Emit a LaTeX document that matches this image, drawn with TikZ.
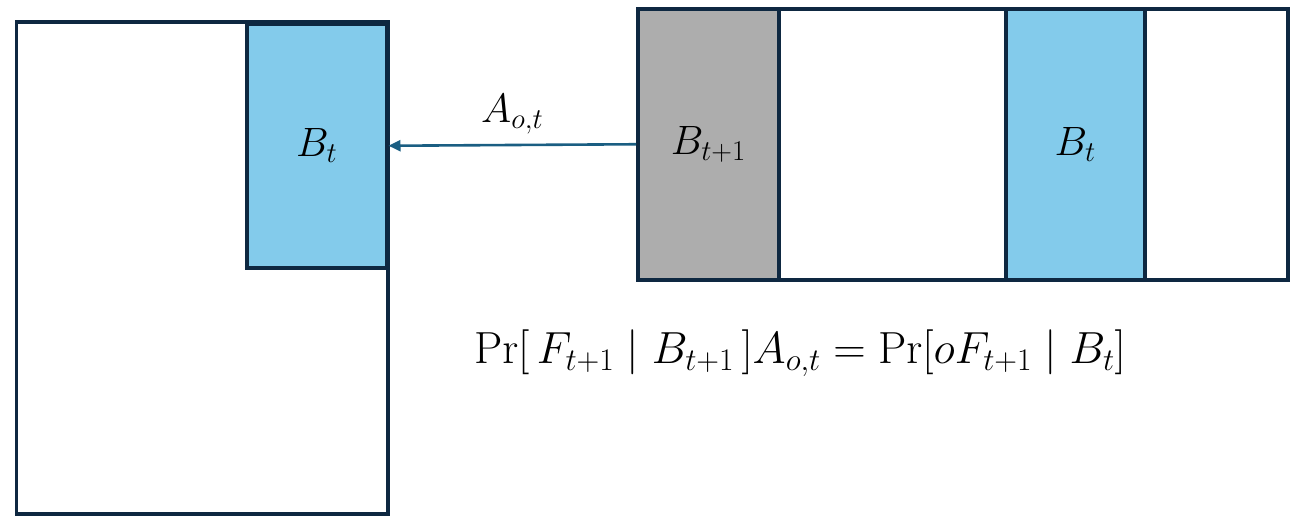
\RequirePackage{fix-cm}
\documentclass[tikz,border=0pt]{standalone}
\usepackage{amsmath}
\usetikzlibrary{arrows.meta}
\definecolor{edge}{HTML}{0E2841}
\definecolor{lblue}{HTML}{83CBEB}
\definecolor{lgray}{HTML}{ADADAD}
\definecolor{arr}{HTML}{1A5E82}
\begin{document}
\begin{tikzpicture}[x=1pt,y=-1pt,
  box/.style={draw=edge, line width=3.5pt, inner sep=0pt, anchor=north west},
  lbl/.style={font=\fontsize{41}{48}\selectfont},
  eqlbl/.style={font=\fontsize{45}{54}\selectfont},
  conn/.style={draw=arr, line width=2.6pt, -{Triangle[length=12pt,width=11pt]}}]
\useasboundingbox (0,0) rectangle (1293,520);
\node[box, fill=white, minimum width=371.5pt, minimum height=492pt] (big) at (14.5,20) {};
\node[box, fill=lblue, minimum width=140pt, minimum height=244pt] (bl) at (245,22) {};
\node[box, fill=white, minimum width=650pt, minimum height=271pt] (strip) at (636,7) {};
\node[box, fill=lgray, minimum width=141pt, minimum height=271pt] (gr) at (636,7) {};
\node[box, fill=lblue, minimum width=139pt, minimum height=271pt] (br) at (1004,7) {};
\node[lbl] (tbl) at (bl.center) {$B_t$};
\node[lbl] (tgr) at (gr.center) {$B_{t+1}$};
\node[lbl] (tbr) at (br.center) {$B_t$};
\draw[conn] (gr.west) -- (bl.east) node[midway, above=6pt, lbl] (ta) {$A_{o,t}$};
\node[eqlbl] (eq) at (800,353) {$\Pr[\,F_{t+1} \mid B_{t+1}\,]A_{o,t} = \Pr[oF_{t+1} \mid B_t]$};
\end{tikzpicture}
\end{document}
